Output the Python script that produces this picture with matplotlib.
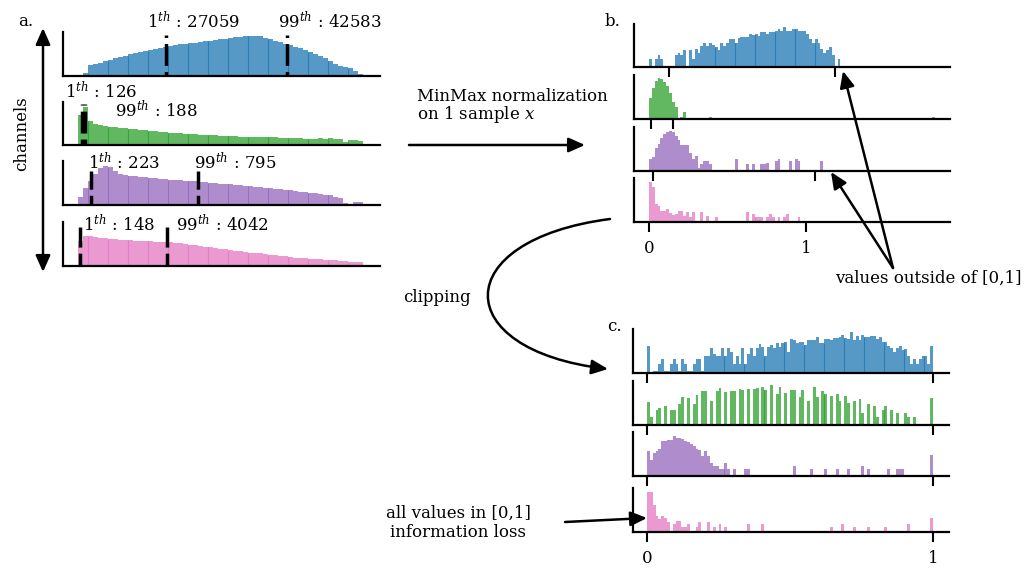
import numpy as np
import matplotlib
matplotlib.use('Agg')
import matplotlib.pyplot as plt
from matplotlib.patches import FancyArrowPatch
from matplotlib.path import Path

plt.rcParams['font.family'] = ['DejaVu Serif']
plt.rcParams['mathtext.fontset'] = 'dejavuserif'

W, H = 1030, 568

# ---------------- data ----------------
channel_colors = ['tab:blue', 'tab:green', 'tab:purple', 'tab:pink']

# panel a : raw histograms over the whole dataset (57 bins each)
a_ranges = [(15769, 52335), (33, 5930), (153.5, 1677), (58.5, 12815)]
a_xlims = [(13844, 54516), (-277.5, 6282), (73.3, 1768), (-613, 13576)]
a_p1 = [27059, 126, 223, 148]
a_p99 = [42583, 188, 795, 4042]
a_blue = [1.5, 3, 11, 12.5, 13.5, 15, 16.5, 18, 19, 20.5,
          22, 23, 24, 25.5, 26.5, 27.5, 28.5, 29.5, 30.5, 31,
          32, 32.5, 33, 33.5, 34, 35, 35.5, 36, 37, 37.5,
          38.5, 39, 39.5, 40, 40.5, 40.5, 40, 38.5, 37, 35.5,
          34, 32.5, 31, 29.5, 28, 26.5, 24.5, 22.5, 20.5, 18,
          15, 12, 10.5, 9, 8, 5.5, 2.5]
a_green = [30, 38, 24, 21, 20, 19, 18, 17.5, 17, 16.5,
           16, 15.5, 15, 14.5, 14, 13.5, 13, 12.5, 12, 12,
           11.5, 11.3, 11, 10.5, 10, 10, 9.7, 9.5, 9, 9,
           8.7, 8.5, 8, 8, 8, 8, 8, 7.7, 8, 7.5,
           7.3, 7.3, 7, 7, 6.7, 6.3, 6.3, 6, 6.7, 6.3,
           6.7, 6, 5.5, 3.3, 4.7, 4.7, 4]
a_purple = [8, 17, 24, 31, 37, 39.3, 38, 34, 31, 30,
            29.5, 29, 28.5, 28, 27.5, 27, 26.5, 26, 25.7, 25.3,
            25, 24.7, 24.5, 24.3, 23.5, 23, 22.7, 22.3, 21.7, 21.3,
            21, 20.5, 20, 19.5, 19, 18.7, 18, 17.5, 17, 16.7,
            16, 15.5, 15, 14.3, 13.7, 13.3, 12.7, 12.3, 11.7, 10.7,
            10, 8.7, 7.7, 2.7, 1.7, 3, 3.5]
a_pink = [25, 30, 29.5, 29, 28, 27.5, 27, 26.5, 26, 25.7,
          25.3, 25, 24.7, 24.5, 24.3, 24, 23.7, 23.5, 23.3, 23,
          22.3, 21.7, 21, 20.3, 19.5, 18.7, 18.3, 17.7, 17, 16.3,
          15.7, 15, 14.3, 13.7, 13, 12.7, 12.3, 11.7, 11, 10.3,
          10, 9.3, 8.7, 8, 7.7, 7.3, 7, 6.7, 6.3, 6,
          5.7, 5.3, 5, 4.3, 3.7, 3.7, 3.3]
a_counts = [a_blue, a_green, a_purple, a_pink]
a_line_top = [41, 41, 34.5, 38.5]
a_dash_offset = [5.0, 4.6, 3.5, 2.6]

# panel b : MinMax normalised sample (100 bins on [0, 1.82])
b_range = (0, 1.82)
b_xlim = (-0.0955, 1.917)
b_ticks = [(0.127, 1.185), (0.013, 0.153), (0.028, 1.057), (0.0, 1.0)]
b_blue = [7.7, 0, 7.7, 12, 7.7, 0, 0, 0, 1, 12,
          14, 12, 16.7, 1, 16.7, 7.7, 18, 14, 21, 24,
          21, 24, 22, 20, 17.3, 24, 20.7, 24, 28, 28,
          24, 29.3, 30, 30, 30, 32.7, 32, 32.7, 30.7, 34.7,
          34.7, 32.7, 34.7, 34.7, 36, 38, 36, 40, 36, 36,
          38, 38, 36, 36, 36, 32.7, 28, 24, 28, 24,
          18, 14, 16.7, 20, 12, 0, 7.7, 1, 1, 1,
          1, 1, 0, 0, 0, 0, 0, 0, 0, 0,
          0, 0, 0, 0, 0, 0, 0, 0, 0, 0,
          0, 0, 0, 0, 0, 0, 0, 0, 0, 1.3]
b_green = [20.7, 30.7, 38, 40.7, 39.7, 37.3, 33, 25.7, 17.3, 11.7,
           0, 1.7, 6.7, 0, 0, 0, 0, 0, 0, 0,
           0, 1.7, 0, 0, 0, 0, 0, 0, 0, 0,
           0, 0, 0, 0, 0, 0, 0, 0, 0, 0,
           0, 0, 0, 0, 0, 0, 0, 0, 0, 0,
           0, 0, 0, 0, 0, 0, 0, 0, 0, 0,
           0, 0, 0, 0, 0, 0, 0, 0, 0, 0,
           0, 0, 0, 0, 0, 0, 0, 0, 0, 0,
           0, 0, 0, 0, 0, 0, 0, 0, 0, 0,
           0, 0, 0, 0, 0, 0, 0, 0, 0, 1.7]
b_purple = [11.7, 14, 23.3, 27.3, 32.7, 37.3, 39.3, 40, 39, 35,
            30.7, 26, 26, 26, 18.3, 11.7, 15, 3.3, 6.7, 10,
            10, 6.7, 1, 0, 0, 0, 0, 0, 0, 0,
            11.7, 1, 0.7, 1, 7.3, 1, 7.3, 1, 1, 6.7,
            6.7, 8.3, 0, 1, 10, 11.7, 1, 1, 1, 10,
            1, 11.7, 10, 1, 0, 1, 0, 0, 0, 0,
            10, 0, 1, 0, 1, 0, 0, 0, 0, 0,
            0, 1, 0, 0, 0, 0, 0, 0, 0, 0,
            0, 0, 0, 0, 0, 0, 0, 0, 0, 1,
            0, 0, 0, 0, 0, 0, 0, 0, 0, 1]
b_pink = [39.7, 34.7, 18, 15.7, 10.7, 10.7, 13.3, 9, 7.3, 8,
          11.3, 10.7, 5.7, 10, 4.7, 10, 1.3, 1.3, 10, 1.3,
          5.7, 1.3, 1.3, 4.7, 0, 0, 1.3, 1.3, 0, 1.3,
          0, 0, 1.3, 1.3, 10, 0, 8, 4.7, 4.7, 4.7,
          1.3, 4.7, 8, 4.7, 1.3, 4.7, 1.3, 4.7, 8, 1.3,
          1.3, 1.3, 4.7, 0, 0, 0, 1.3, 1.3, 0, 1.3,
          1.3, 1.3, 0, 0, 0, 0, 0, 1.3, 0, 0,
          0, 0, 0, 0, 0, 0, 1.3, 0, 0, 0,
          0, 0, 0, 0, 0, 0, 0, 0, 0, 0,
          0, 0, 0, 0, 0, 0, 0, 0, 0, 1.3]
b_counts = [b_blue, b_green, b_purple, b_pink]

# panel c : clipped to [0, 1] (100 bins)
c_range = (0, 1)
c_xlim = (-0.049, 1.056)
c_ticks = (0, 1)
c_blue = [26.3, 0, 1.3, 1.3, 8.3, 13.3, 1.3, 1.3, 8.3, 13.3,
          8.3, 1.3, 13.3, 8.3, 1.3, 1.3, 8.3, 13.3, 13.3, 1.3,
          16.3, 16.3, 24.3, 18.3, 16.3, 16.3, 24.3, 16.3, 24.3, 20.3,
          8.3, 16.3, 8.3, 24.3, 8.3, 18.3, 24.3, 16.3, 24.3, 28.3,
          25.3, 16.3, 25.3, 27.3, 24.3, 29.3, 25.3, 29.3, 30.3, 20.3,
          33.3, 32.3, 29.3, 30.3, 30.3, 27.3, 32.3, 32.3, 32.3, 35.3,
          29.3, 29.3, 33.3, 33.3, 32.3, 34.3, 34.3, 35.3, 37.3, 34.3,
          33.3, 40.3, 32.3, 36.3, 32.3, 37.3, 35.3, 35.3, 36.3, 36.3,
          33.3, 35.3, 30.3, 30.3, 26.3, 24.3, 20.3, 24.3, 26.3, 22.3,
          23.3, 16.3, 8.3, 13.3, 8.3, 13.3, 16.3, 16.3, 8.3, 26.3]
c_green = [22.7, 7.7, 0, 14.7, 16.7, 0, 18.7, 0, 14.7, 14.7,
           0, 20.7, 27.7, 0, 26.7, 0, 20.7, 29.7, 0, 33.7,
           33.7, 0, 23.7, 0, 33.7, 36.7, 0, 32.7, 0, 33.7,
           33.7, 0, 35.7, 34.7, 0, 35.7, 0, 35.7, 36.7, 0,
           37.7, 34.7, 0, 39.7, 0, 30.7, 37.7, 0, 31.7, 0,
           34.7, 34.7, 0, 27.7, 34.7, 0, 23.7, 0, 37.7, 27.7,
           0, 33.7, 30.7, 0, 28.7, 0, 30.7, 23.7, 0, 28.7,
           21.7, 0, 23.7, 0, 25.7, 11.7, 0, 20.7, 0, 18.7,
           7.7, 0, 14.7, 18.7, 0, 14.7, 0, 11.7, 0, 0,
           11.7, 7.7, 0, 7.7, 0, 0.7, 0.7, 0, 0, 26.7]
c_purple = [25.3, 16.3, 23.3, 25.3, 27.3, 35.3, 35.3, 36.3, 36.3, 40.3,
            38.3, 38.3, 37.3, 35.3, 34.3, 32.3, 30.3, 27.3, 26.3, 20.3,
            25.3, 20.3, 13.3, 10.3, 10.3, 7.3, 7.3, 13.3, 7.3, 0,
            7.3, 1.3, 1.3, 1.3, 7.3, 7.3, 1.3, 1.3, 1.3, 1.3,
            0, 0, 1.3, 1.3, 0, 0, 1.3, 1.3, 1.3, 1.3,
            1.3, 10.3, 0, 1.3, 0, 0, 1.3, 7.3, 0, 0,
            1.3, 0, 7.3, 0, 1.3, 0, 7.3, 1.3, 1.3, 1.3,
            7.3, 1.3, 0, 0, 1.3, 10.3, 1.3, 7.3, 1.3, 0,
            0, 0, 1.3, 1.3, 7.3, 0, 0, 7.3, 7.3, 7.3,
            1.3, 1.3, 0.7, 0, 0, 0, 0, 0, 0, 21.3]
c_pink = [40, 40, 27, 16, 13, 16, 14, 10, 0, 8,
          11, 11, 5, 5, 8, 1, 1, 5, 10, 1,
          1, 10, 0, 5, 1, 8, 1, 5, 1, 0,
          0, 1, 0, 1, 0, 8, 0, 1, 0, 0,
          8, 1, 0, 1, 1, 0, 0, 0, 0, 1,
          0, 0, 1, 0, 0, 1, 0, 0, 0, 0,
          1, 0, 1, 1, 5, 0, 0, 0, 8, 1,
          1, 0, 5, 1, 1, 0, 0, 5, 1, 1,
          1, 0, 0, 5, 0, 1, 1, 1, 1, 0,
          0, 8, 0, 0, 0, 0, 1, 0, 1, 14]
c_counts = [c_blue, c_green, c_purple, c_pink]

# ---------------- layout (pixels) ----------------
a_box = (63, 380, [32, 102, 161.5, 221.5], [76, 145, 205.5, 265.5])
b_box = (634, 950, [24, 75, 127, 178], [67, 119, 171, 222])
c_box = (633, 949, [329, 381, 432, 488], [372.5, 424.5, 476, 532])

fig = plt.figure(figsize=(W / 100, H / 100), dpi=100)


def add_ax(left, right, top, bottom):
    ax = fig.add_axes([left / W, 1 - bottom / H, (right - left) / W, (bottom - top) / H])
    for s in ['top', 'right']:
        ax.spines[s].set_visible(False)
    for s in ['left', 'bottom']:
        ax.spines[s].set_linewidth(1.6)
        ax.spines[s].set_color('black')
    ax.set_yticks([])
    ax.patch.set_alpha(0)
    ax.set_ylim(0, bottom - top)
    return ax


def draw_hist(ax, counts, lo, hi, color, step, start):
    counts = np.asarray(counts, dtype=float)
    edges = np.linspace(lo, hi, len(counts) + 1)
    ax.stairs(counts, edges, fill=True, color=color, alpha=0.75, linewidth=0)
    for i in range(start, len(counts), step):
        h = min(counts[i], counts[i - 1]) if i > 0 else counts[i]
        if h > 0:
            ax.vlines(edges[i], 0, h, color=color, lw=0.8, alpha=0.8)


tick_kw = dict(axis='x', direction='out', length=7, width=1.5, pad=6,
               labelsize=12, colors='black')

# panel a
for i in range(4):
    ax = add_ax(a_box[0], a_box[1], a_box[2][i], a_box[3][i])
    lo, hi = a_ranges[i]
    draw_hist(ax, a_counts[i], lo, hi, channel_colors[i], 4, 2)
    ax.set_xlim(*a_xlims[i])
    ax.set_xticks([])
    for p in (a_p1[i], a_p99[i]):
        ax.plot([p, p], [0, a_line_top[i]], color='black', lw=2.5,
                linestyle=(a_dash_offset[i], (6.3, 1.75)), zorder=5)

# panel b
for i in range(4):
    ax = add_ax(b_box[0], b_box[1], b_box[2][i], b_box[3][i])
    draw_hist(ax, b_counts[i], b_range[0], b_range[1], channel_colors[i], 7, 23)
    ax.set_xlim(*b_xlim)
    ax.set_xticks(b_ticks[i])
    ax.tick_params(**tick_kw)
    ax.set_xticklabels(['0', '1'] if i == 3 else ['', ''])

# panel c
for i in range(4):
    ax = add_ax(c_box[0], c_box[1], c_box[2][i], c_box[3][i])
    draw_hist(ax, c_counts[i], c_range[0], c_range[1], channel_colors[i], 7, 27)
    ax.set_xlim(*c_xlim)
    ax.set_xticks(c_ticks)
    ax.tick_params(**tick_kw)
    ax.set_xticklabels(['0', '1'] if i == 3 else ['', ''])

# ---------------- overlay: texts and arrows ----------------
ov = fig.add_axes([0, 0, 1, 1], zorder=10)
ov.set_xlim(0, W)
ov.set_ylim(H, 0)
ov.axis('off')
ov.patch.set_alpha(0)

fs = 12
txt = dict(fontsize=fs, va='baseline', ha='left', color='black')

ov.text(18, 26, 'a.', **txt)
ov.text(605, 26, 'b.', **txt)
ov.text(607, 331, 'c.', **txt)
ov.text(22, 134, 'channels', fontsize=fs, rotation=90, ha='center', va='center')

pct_labels = [
    (147, 28.3, r'$1^{th}$ : 27059'), (278, 28.3, r'$99^{th}$ : 42583'),
    (65, 98.3, r'$1^{th}$ : 126'), (115, 116.7, r'$99^{th}$ : 188'),
    (88, 169.3, r'$1^{th}$ : 223'), (194, 169.3, r'$99^{th}$ : 795'),
    (83, 230.7, r'$1^{th}$ : 148'), (176, 230.7, r'$99^{th}$ : 4042'),
]
for x, y, s in pct_labels:
    ov.text(x, y, s, **txt)

ov.text(417, 100.7, 'MinMax normalization', **txt)
ov.text(417, 119.3, 'on 1 sample $x$', **txt)
ov.text(403, 301.7, 'clipping', **txt)
ov.text(835, 283.3, 'values outside of [0,1]', **txt)
ov.text(458, 517.7, 'all values in [0,1]', fontsize=fs, va='baseline', ha='center')
ov.text(458, 536.7, 'information loss', fontsize=fs, va='baseline', ha='center')

arr = dict(arrowstyle='-|>,head_length=0.45,head_width=0.2', mutation_scale=22,
           lw=1.8, color='black', shrinkA=0, shrinkB=0)

ov.add_patch(FancyArrowPatch((43, 272), (43, 28),
                             arrowstyle='<|-|>,head_length=0.45,head_width=0.2',
                             mutation_scale=22, lw=1.8, color='black',
                             shrinkA=0, shrinkB=0))
ov.add_patch(FancyArrowPatch((409, 145), (585, 145), **arr))
curve = Path([(610, 219), (448, 240), (448, 350), (608, 369)],
             [Path.MOVETO, Path.CURVE4, Path.CURVE4, Path.CURVE4])
ov.add_patch(FancyArrowPatch(path=curve, **arr))
ov.add_patch(FancyArrowPatch((893, 268), (843, 71), **arr))
ov.add_patch(FancyArrowPatch((893, 268), (831, 172), **arr))
ov.add_patch(FancyArrowPatch((565, 522), (647, 518), **arr))

fig.savefig('out.png', dpi=100)
